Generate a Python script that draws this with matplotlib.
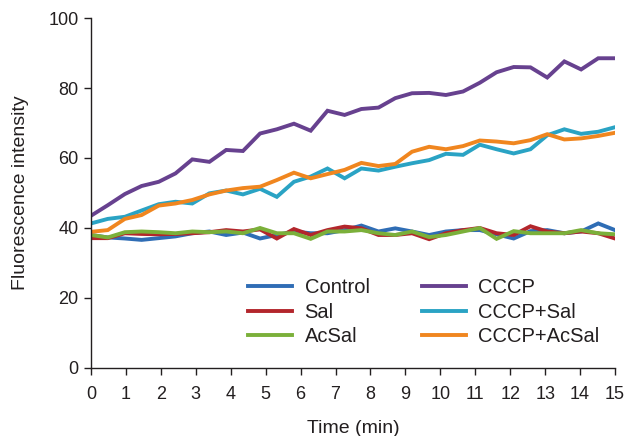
import matplotlib
matplotlib.use("Agg")
import matplotlib.pyplot as plt

plt.rcParams['font.family'] = ['Liberation Sans', 'DejaVu Sans']

# sampling times (min), 32 readings over 15 min
time_min = [0.0, 0.48, 0.97, 1.45, 1.94, 2.42, 2.90, 3.39, 3.87, 4.35,
            4.84, 5.32, 5.81, 6.29, 6.77, 7.26, 7.74, 8.23, 8.71, 9.19,
            9.68, 10.16, 10.65, 11.13, 11.61, 12.10, 12.58, 13.06, 13.55, 14.03,
            14.52, 15.0]

control = [38.0, 37.3, 37.0, 36.6, 37.1, 37.6, 38.5, 39.0, 38.0, 38.7,
           37.0, 38.0, 39.0, 38.5, 38.5, 39.4, 40.7, 39.0, 39.9, 39.0,
           38.0, 39.0, 39.4, 39.4, 38.2, 37.0, 39.1, 39.4, 38.5, 39.0,
           41.3, 39.4]
sal = [37.1, 37.1, 38.5, 38.3, 38.2, 38.3, 38.5, 38.8, 39.4, 39.0,
       39.6, 37.0, 39.7, 38.0, 39.4, 40.4, 39.9, 38.0, 38.0, 38.5,
       36.8, 38.5, 39.4, 40.0, 38.5, 38.0, 40.5, 39.0, 38.5, 39.0,
       38.5, 37.0]
acsal = [38.0, 37.3, 38.8, 39.0, 38.8, 38.5, 39.0, 38.8, 39.0, 38.5,
         40.0, 38.5, 38.5, 36.9, 39.0, 39.0, 39.4, 38.5, 38.0, 39.0,
         37.4, 38.0, 39.0, 40.0, 36.9, 39.1, 38.5, 38.5, 38.5, 39.4,
         38.5, 38.2]
cccp = [43.5, 46.5, 49.7, 52.0, 53.2, 55.6, 59.6, 58.9, 62.3, 62.0,
        67.0, 68.2, 69.8, 67.8, 73.5, 72.3, 74.0, 74.4, 77.1, 78.5,
        78.6, 78.0, 79.0, 81.5, 84.5, 86.0, 85.9, 83.0, 87.6, 85.3,
        88.5, 88.5]
cccp_sal = [41.3, 42.6, 43.2, 45.0, 46.8, 47.5, 47.0, 49.9, 50.7, 49.6,
            51.2, 48.9, 53.2, 54.7, 57.0, 54.2, 57.0, 56.4, 57.5, 58.5,
            59.4, 61.2, 60.9, 63.8, 62.5, 61.3, 62.5, 66.5, 68.2, 66.9,
            67.5, 68.8]
cccp_acsal = [38.9, 39.4, 42.6, 43.7, 46.4, 47.0, 48.0, 49.6, 50.7, 51.4,
              51.8, 53.7, 55.8, 54.2, 55.4, 56.6, 58.6, 57.7, 58.3, 61.8,
              63.2, 62.5, 63.4, 65.0, 64.7, 64.2, 65.1, 66.8, 65.3, 65.6,
              66.3, 67.2]

labels = ['Control', 'Sal', 'AcSal', 'CCCP', 'CCCP+Sal', 'CCCP+AcSal']
series = [control, sal, acsal, cccp, cccp_sal, cccp_acsal]
colors = ['#2f6db5', '#b3262c', '#7bb03a', '#67418f', '#2aa3c4', '#f0861f']

fig = plt.figure(figsize=(6.3, 4.36), dpi=100)
ax = fig.add_axes([0.1444, 0.156, 0.8318, 0.8027])

for y, lab, col in zip(series, labels, colors):
    ax.plot(time_min, y, color=col, lw=2.8, label=lab, solid_joinstyle='miter')

ax.set_xlim(0, 15)
ax.set_ylim(0, 100)
ax.set_xticks(range(0, 16))
ax.set_yticks(range(0, 101, 20))
ax.spines['top'].set_visible(False)
ax.spines['right'].set_visible(False)
for s in ['left', 'bottom']:
    ax.spines[s].set_color('#231f20')
    ax.spines[s].set_linewidth(1.0)
ax.tick_params(direction='out', length=5, width=1.0, color='#231f20',
               labelsize=13, labelcolor='#231f20', pad=4)
ax.tick_params(axis='x', pad=8)
ax.set_xlabel('Time (min)', fontsize=14, color='#231f20', labelpad=12)
ax.set_ylabel('Fluorescence intensity', fontsize=14, color='#231f20', labelpad=14)

ax.legend(loc='upper left', bbox_to_anchor=(0.30, 0.257), ncol=2, frameon=False,
          fontsize=14.5, handlelength=2.2, handletextpad=0.6, columnspacing=2.6,
          labelspacing=0.28, borderpad=0, borderaxespad=0,
          labelcolor='#231f20')

fig.savefig('out.png', dpi=100)
